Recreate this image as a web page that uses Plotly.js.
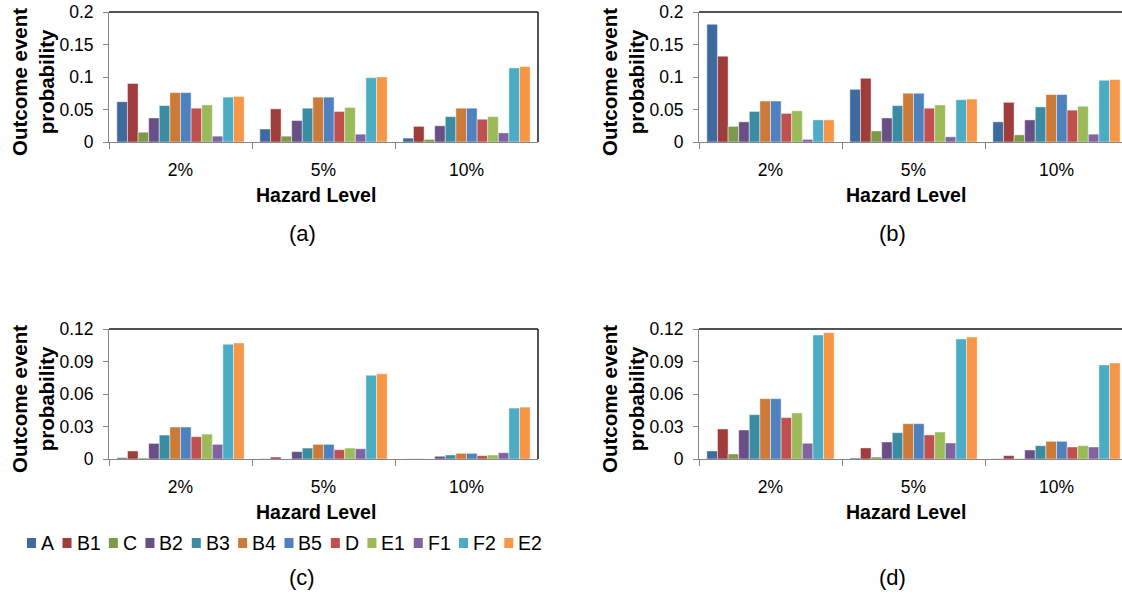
<!DOCTYPE html>
<html>
<head>
<meta charset="utf-8">
<script src="https://cdn.plot.ly/plotly-3.0.1.min.js"></script>
<style>
html, body { margin: 0; padding: 0; overflow: hidden; background: #fff; }
#chart { width: 1122px; height: 596px; }
</style>
</head>
<body>
<div id="chart"></div>
<script>
// ---------------- DATA ----------------
const categories = ['2%', '5%', '10%'];
const seriesNames = ['A', 'B1', 'C', 'B2', 'B3', 'B4', 'B5', 'D', 'E1', 'F1', 'F2', 'E2'];
const seriesColors = ['#3F6A9F', '#9E3D3B', '#7E9A48', '#6A4F87', '#3A8CA3', '#CC7A38',
                      '#4E81BD', '#C0504D', '#9BBB59', '#8064A2', '#4BACC6', '#F79646'];
const panelLabels = ['(a)', '(b)', '(c)', '(d)'];
const yTitle = 'Outcome event<br>probability';
const xTitle = 'Hazard Level';

// values per series (rows follow seriesNames), columns follow categories
const panelA = [
  [0.062, 0.020, 0.006],
  [0.090, 0.051, 0.024],
  [0.015, 0.009, 0.004],
  [0.037, 0.033, 0.025],
  [0.056, 0.052, 0.039],
  [0.076, 0.069, 0.052],
  [0.076, 0.069, 0.052],
  [0.052, 0.047, 0.035],
  [0.057, 0.053, 0.039],
  [0.009, 0.012, 0.014],
  [0.069, 0.099, 0.114],
  [0.070, 0.100, 0.116]
];
const panelB = [
  [0.181, 0.081, 0.031],
  [0.132, 0.098, 0.061],
  [0.024, 0.017, 0.011],
  [0.031, 0.037, 0.034],
  [0.047, 0.056, 0.054],
  [0.063, 0.075, 0.073],
  [0.063, 0.075, 0.073],
  [0.044, 0.052, 0.049],
  [0.048, 0.057, 0.055],
  [0.004, 0.008, 0.012],
  [0.034, 0.065, 0.095],
  [0.034, 0.066, 0.096]
];
const panelC = [
  [0.0012, 0.0002, 0.0001],
  [0.0074, 0.0018, 0.0002],
  [0.0009, 0.0001, 0.0001],
  [0.0144, 0.0068, 0.0025],
  [0.0221, 0.0101, 0.0037],
  [0.0295, 0.0135, 0.0052],
  [0.0295, 0.0135, 0.0052],
  [0.0206, 0.0086, 0.0031],
  [0.0230, 0.0101, 0.0037],
  [0.0135, 0.0095, 0.0058],
  [0.1059, 0.0773, 0.0470],
  [0.1071, 0.0786, 0.0479]
];
const panelD = [
  [0.0074, 0.0009, 0.0003],
  [0.0277, 0.0102, 0.0031],
  [0.0046, 0.0018, 0.0003],
  [0.0268, 0.0157, 0.0083],
  [0.0409, 0.0243, 0.0123],
  [0.0557, 0.0326, 0.0163],
  [0.0557, 0.0326, 0.0163],
  [0.0382, 0.0222, 0.0111],
  [0.0425, 0.0249, 0.0123],
  [0.0145, 0.0148, 0.0111],
  [0.1145, 0.1108, 0.0868],
  [0.1166, 0.1126, 0.0886]
];
const yRanges = [[0, 0.2], [0, 0.2], [0, 0.12], [0, 0.12]];
const yDticks = [0.05, 0.05, 0.03, 0.03];

// ---------------- LAYOUT (pixel geometry) ----------------
const W = 1122, H = 596;
const FONT = 'Arial, "Liberation Sans", sans-serif';
const px = v => v / W;
const py = v => 1 - v / H;

// plot boxes: [left, right, top, bottom] in pixels
const catPx = 143;
const boxes = [
  [109, 538, 12, 142],
  [699, W, 12, 142],
  [109, 538, 329, 459],
  [699, W, 329, 459]
];
const panels = [panelA, panelB, panelC, panelD];
const suffix = ['', '2', '3', '4'];

const traces = [];
const layout = {
  width: W, height: H,
  margin: { l: 0, r: 0, t: 0, b: 0 },
  paper_bgcolor: '#fff', plot_bgcolor: '#fff',
  barmode: 'group', bargap: 0.11, bargroupgap: 0,
  showlegend: false,
  font: { family: FONT, color: '#000' },
  shapes: [], annotations: []
};

panels.forEach((pdata, p) => {
  const s = suffix[p];
  seriesNames.forEach((name, i) => {
    traces.push({
      type: 'bar', name: name, x: categories, y: pdata[i],
      xaxis: 'x' + s, yaxis: 'y' + s,
      marker: { color: seriesColors[i], line: { color: 'rgba(255,255,255,0.55)', width: 0.8 } },
      hoverinfo: 'x+y+name'
    });
  });
  const [l, r, t, b] = boxes[p];
  const span = (r - l) / catPx;
  layout['xaxis' + s] = {
    domain: [px(l), px(r)], anchor: 'y' + s, type: 'category',
    range: [-0.5, -0.5 + span],
    tickson: 'boundaries', ticks: 'outside', ticklen: 6, tickcolor: '#868686', tickwidth: 1,
    showline: true, linecolor: '#868686', linewidth: 1, showgrid: false, zeroline: false,
    tickfont: { family: FONT, size: 17.5, color: '#000' }, ticklabelstandoff: 12,
    fixedrange: true
  };
  layout['yaxis' + s] = {
    domain: [py(b), py(t)], anchor: 'x' + s,
    range: yRanges[p], dtick: yDticks[p], tick0: 0,
    ticks: 'outside', ticklen: 5, tickcolor: '#868686', tickwidth: 1,
    showline: true, linecolor: '#868686', linewidth: 1, showgrid: false, zeroline: false,
    tickfont: { family: FONT, size: 17.5, color: '#000' }, ticklabelstandoff: 6,
    fixedrange: true
  };
  // dark top and right border of plot area
  layout.shapes.push({ type: 'line', xref: 'x' + s + ' domain', yref: 'y' + s + ' domain',
    x0: 0, x1: 1, y0: 1, y1: 1, line: { color: '#1a1a1a', width: 1.5 } });
  if (r < W) {
    layout.shapes.push({ type: 'line', xref: 'x' + s + ' domain', yref: 'y' + s + ' domain',
      x0: 1, x1: 1, y0: 0, y1: 1, line: { color: '#1a1a1a', width: 1.5 } });
  }
  // titles
  const yTitleX = l - 76;
  layout.annotations.push({
    xref: 'paper', yref: 'paper', x: px(yTitleX), y: py((t + b) / 2 + 5),
    text: yTitle, textangle: -90, showarrow: false, xanchor: 'center', yanchor: 'middle',
    font: { family: FONT, size: 20.5, weight: 'bold', color: '#000' }
  });
  layout.annotations.push({
    xref: 'paper', yref: 'paper', x: px(l + 207), y: py(b + 53),
    text: xTitle, showarrow: false, xanchor: 'center', yanchor: 'middle',
    font: { family: FONT, size: 19.5, weight: 'bold', color: '#000' }
  });
  layout.annotations.push({
    xref: 'paper', yref: 'paper', x: px(l + 193), y: py(p < 2 ? b + 92 : 577),
    text: panelLabels[p], showarrow: false, xanchor: 'center', yanchor: 'middle',
    font: { family: FONT, size: 22, color: '#000' }
  });
});

// ---------------- custom legend (under panel c) ----------------
(function buildLegend() {
  const fs = 19.5;
  const ctx = document.createElement('canvas').getContext('2d');
  ctx.font = fs + 'px Arial, "Liberation Sans", sans-serif';
  let x = 27;
  const yc = 543;
  seriesNames.forEach((name, i) => {
    layout.shapes.push({ type: 'rect', xref: 'paper', yref: 'paper',
      x0: px(x), x1: px(x + 9), y0: py(yc + 5), y1: py(yc - 5),
      fillcolor: seriesColors[i], line: { width: 0 } });
    const tx = x + 14;
    let w = ctx.measureText(name).width;
    if (!w) w = name.length * 11;
    layout.annotations.push({
      xref: 'paper', yref: 'paper', x: px(tx - 1), y: py(yc), text: name,
      showarrow: false, xanchor: 'left', yanchor: 'middle', borderpad: 0,
      font: { family: FONT, size: fs, color: '#000' }
    });
    x = tx + w + 8.5;
  });
})();

Plotly.newPlot('chart', traces, layout, { displayModeBar: false, staticPlot: true });
</script>
</body>
</html>
